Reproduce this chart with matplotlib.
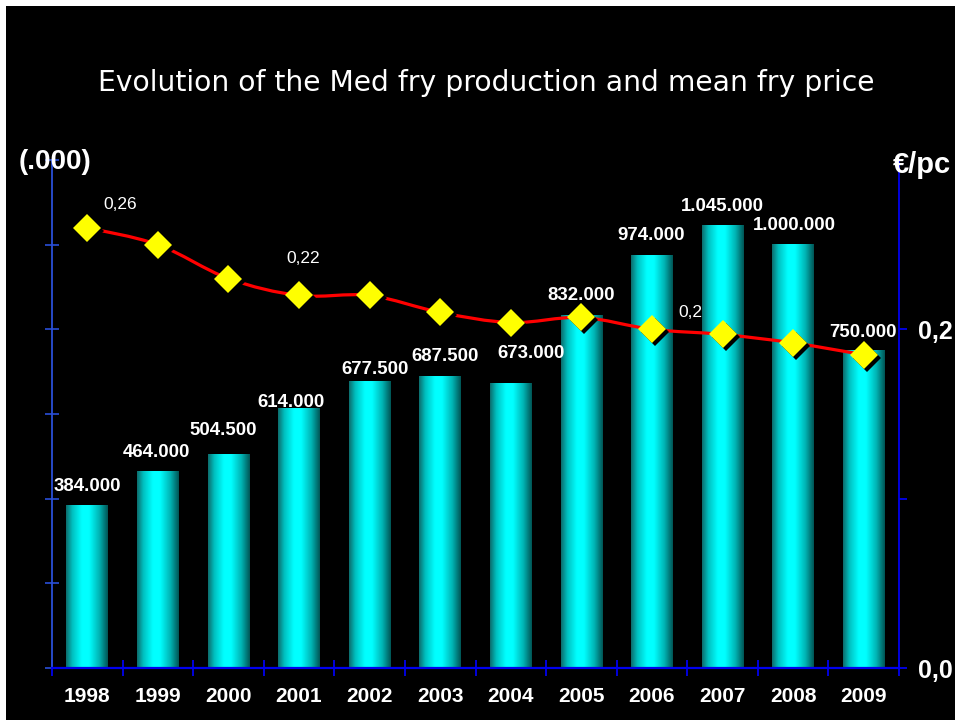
import numpy as np
import matplotlib
matplotlib.use("Agg")
import matplotlib.pyplot as plt
from matplotlib.patches import Rectangle, PathPatch
from matplotlib.path import Path
from matplotlib.colors import LinearSegmentedColormap
import matplotlib.transforms as mtransforms

# ---- data ----
years = ["1998", "1999", "2000", "2001", "2002", "2003",
         "2004", "2005", "2006", "2007", "2008", "2009"]
production = [384.0, 464.0, 504.5, 614.0, 677.5, 687.5,
              673.0, 832.0, 974.0, 1045.0, 1000.0, 750.0]
production_labels = ["384.000", "464.000", "504.500", "614.000", "677.500", "687.500",
                     "673.000", "832.000", "974.000", "1.045.000", "1.000.000", "750.000"]
price = [0.26, 0.25, 0.23, 0.22, 0.22, 0.21,
         0.204, 0.207, 0.20, 0.197, 0.192, 0.185]
price_label_idx = [0, 3, 8]
price_label_text = ["0,26", "0,22", "0,2"]

# ---- layout / style ----
W, H = 955, 724
fig = plt.figure(figsize=(W / 100, H / 100), dpi=100, facecolor="white")
fig.patches.append(Rectangle((6 / W, 4 / H), 1 - 6 / W, 1 - 10 / H,
                             transform=fig.transFigure, facecolor="black",
                             edgecolor="none", zorder=-10))

ax = fig.add_axes([52 / W, 56 / H, (899 - 52) / W, (668 - 160) / H])
ax.set_facecolor("none")
ax2 = ax.twinx()
ax2.set_facecolor("none")

n = len(years)
x = np.arange(n)

# gradient bars
cmap = LinearSegmentedColormap.from_list("cyl", [
    (0.0, (0.05, 0.42, 0.42)),
    (0.15, (0.0, 0.75, 0.75)),
    (0.38, (0.0, 1.0, 1.0)),
    (0.55, (0.0, 1.0, 1.0)),
    (0.8, (0.0, 0.7, 0.7)),
    (1.0, (0.0, 0.33, 0.33)),
])
grad = np.linspace(0, 1, 256).reshape(1, -1)
bw = 0.59
bars = ax.bar(x, production, width=bw, color="none", edgecolor="none", zorder=2)
for b in bars:
    x0, y0 = b.get_x(), b.get_y()
    ax.imshow(grad, cmap=cmap, aspect="auto", zorder=2,
              extent=(x0, x0 + b.get_width(), y0, y0 + b.get_height()),
              interpolation="bilinear")
ax.set_xlim(-0.5, n - 0.5)
ax.set_ylim(0, 1200)
ax2.set_ylim(0, 0.3)

# bar labels (offsets in pixels)
lab_dx = [0, -1, -5, -8, 5, 5, 20, 0, -1, 0, 1, -1]
lab_dy = [19, 19, 24, 6, 12, 20, 30, 20, 20, 19, 19, 18]
for i in range(n):
    ax.annotate(production_labels[i], xy=(x[i], production[i]),
                xytext=(lab_dx[i] * 0.72, lab_dy[i] * 0.72), textcoords="offset points",
                ha="center", va="center", color="white", fontsize=13.4,
                fontweight="bold", family="Liberation Sans", zorder=6)

# smooth price curve (Catmull-Rom as cubic Bezier)
pts = np.column_stack([x, price]).astype(float)
verts = [tuple(pts[0])]
codes = [Path.MOVETO]
for i in range(n - 1):
    p0 = pts[i - 1] if i > 0 else pts[i]
    p1 = pts[i]
    p2 = pts[i + 1]
    p3 = pts[i + 2] if i + 2 < n else pts[i + 1]
    c1 = p1 + (p2 - p0) / 6.0
    c2 = p2 - (p3 - p1) / 6.0
    verts += [tuple(c1), tuple(c2), tuple(p2)]
    codes += [Path.CURVE4] * 3
ax2.add_patch(PathPatch(Path(verts, codes), facecolor="none", edgecolor="#ff0000",
                        lw=2.3, zorder=4))
shadow = mtransforms.offset_copy(ax2.transData, fig=fig, x=3, y=-3, units="dots")
ax2.plot(x, price, linestyle="none", marker="D", markersize=14, color="black",
         markeredgewidth=0, transform=shadow, zorder=4.5)
ax2.plot(x, price, linestyle="none", marker="D", markersize=14, color="#ffff00",
         markeredgewidth=0, zorder=5)

p_dx = [33, 4, 38]
p_dy = [23, 37, 17]
for k, i in enumerate(price_label_idx):
    ax2.annotate(price_label_text[k], xy=(x[i], price[i]),
                 xytext=(p_dx[k] * 0.72, p_dy[k] * 0.72), textcoords="offset points",
                 ha="center", va="center", color="white", fontsize=12.5,
                 family="Liberation Sans", zorder=6)

# axes styling
blue_l = "#2a4fd8"
blue = "#0000ee"
for a in (ax, ax2):
    for s in a.spines.values():
        s.set_visible(False)
ax.spines["left"].set_visible(True)
ax.spines["left"].set_color(blue_l)
ax.spines["left"].set_linewidth(1.3)
ax.spines["bottom"].set_visible(True)
ax.spines["bottom"].set_color(blue)
ax.spines["bottom"].set_linewidth(1.6)
ax2.spines["right"].set_visible(True)
ax2.spines["right"].set_color(blue)
ax2.spines["right"].set_linewidth(1.3)

ax.set_yticks(np.arange(0, 1201, 200))
ax.tick_params(axis="y", which="major", direction="inout", length=10, width=1.2,
               color=blue_l, labelleft=False)
ax.set_xticks(x)
ax.set_xticklabels(years, fontsize=15, fontweight="bold", color="white",
                   family="Liberation Sans")
ax.tick_params(axis="x", which="major", length=0, pad=14)
ax.set_xticks(np.arange(-0.5, n, 1.0), minor=True)
ax.tick_params(axis="x", which="minor", direction="inout", length=11, width=1.3, color=blue)

ax2.set_yticks([0.0, 0.1, 0.2])
ax2.set_yticklabels(["0,0", "", "0,2"], fontsize=18, fontweight="bold", color="white",
                    family="Liberation Sans")
ax2.tick_params(axis="y", direction="out", length=6, width=1.3, color=blue, pad=8)

# texts
fig.text(486 / W, 1 - 83 / H, "Evolution of the Med fry production and mean fry price",
         ha="center", va="center", color="white", fontsize=20.3, family="DejaVu Sans")
fig.text(55 / W, 1 - 162 / H, "(.000)", ha="center", va="center", color="white",
         fontsize=20, fontweight="bold", family="Liberation Sans")
fig.text(922 / W, 1 - 165 / H, "€/pc", ha="center", va="center", color="white",
         fontsize=21, fontweight="bold", family="Liberation Sans")

fig.savefig("out.png", dpi=100, facecolor=fig.get_facecolor())
